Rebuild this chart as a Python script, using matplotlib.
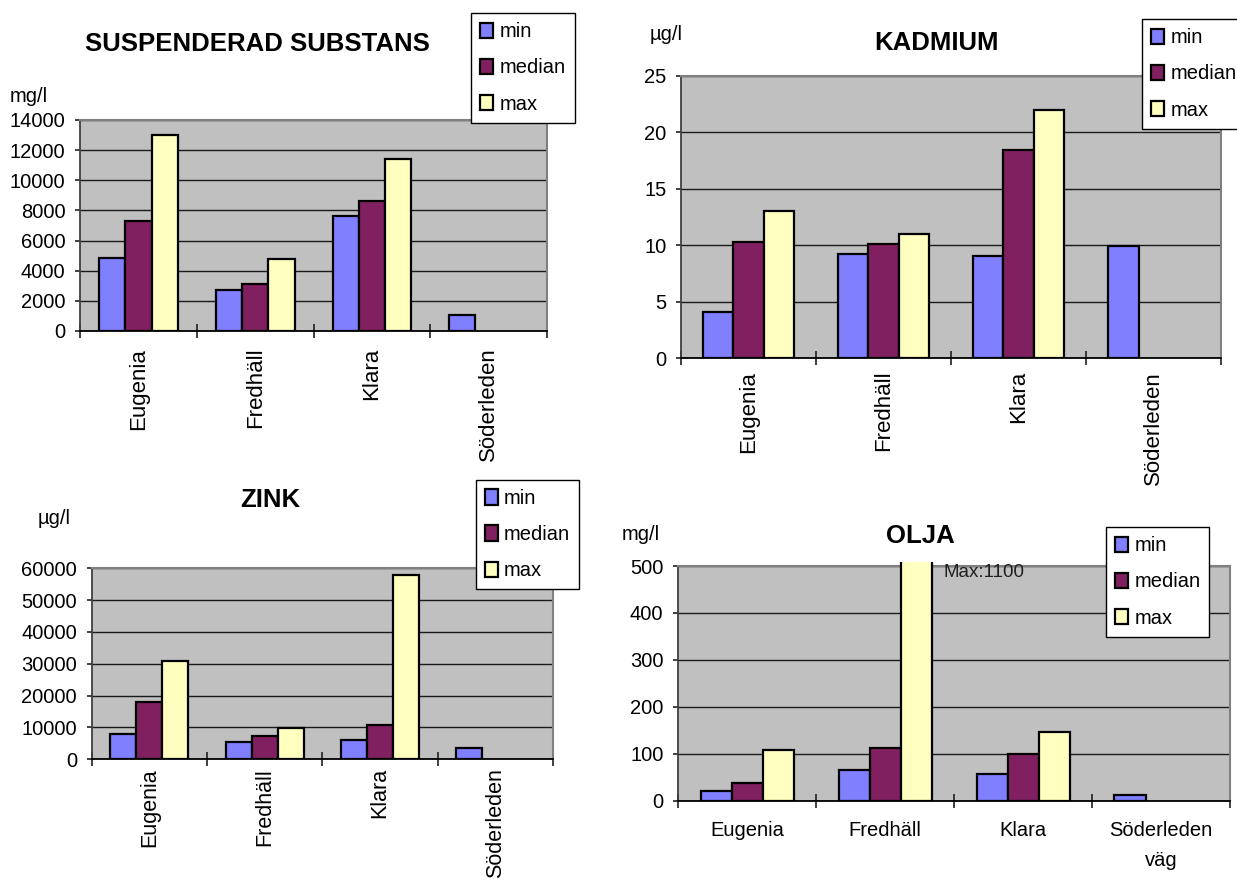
import numpy as np
import matplotlib
matplotlib.use("Agg")
import matplotlib.pyplot as plt
from matplotlib.patches import Patch, Rectangle
from matplotlib.ticker import NullFormatter

plt.rcParams['font.family'] = ['Liberation Sans', 'DejaVu Sans']

W, H = 1237, 882

sites = ["Eugenia", "Fredhäll", "Klara", "Söderleden"]
sites_olja = ["Eugenia", "Fredhäll", "Klara", "Söderleden\nväg"]
series = ["min", "median", "max"]
colors = ["#8080FF", "#802060", "#FFFFC0"]

# suspenderad substans, mg/l
susp_min = [4850, 2750, 7650, 1050]
susp_median = [7300, 3100, 8650, None]
susp_max = [13000, 4800, 11400, None]

# kadmium, µg/l
kadm_min = [4.1, 9.2, 9.05, 9.9]
kadm_median = [10.3, 10.1, 18.4, None]
kadm_max = [13.0, 11.0, 22.0, None]

# zink, µg/l
zink_min = [7850, 5450, 6100, 3550]
zink_median = [17900, 7300, 10900, None]
zink_max = [31000, 9700, 57900, None]

# olja, mg/l
olja_min = [21, 65, 57, 12]
olja_median = [38, 113, 100, None]
olja_max = [108, 1100, 147, None]

bar_w = 0.225
offsets = [-bar_w, 0.0, bar_w]


def px_axes(fig, x0, y0, x1, y1):
    """Axes from pixel corners (top-left origin)."""
    return fig.add_axes([x0 / W, 1 - y1 / H, (x1 - x0) / W, (y1 - y0) / H])


def bar_panel(fig, box, values, ymax, ystep, labels, rotate=True, label_pad=10,
              label_size=16, clip_top=1.0):
    ax = px_axes(fig, *box)
    ax.set_facecolor("#C0C0C0")
    centers = np.arange(len(labels))

    for vals, off, col in zip(values, offsets, colors):
        xs = [c + off for c, v in zip(centers, vals) if v is not None]
        hs = [v for v in vals if v is not None]
        bars = ax.bar(xs, hs, bar_w, color=col, edgecolor="black", linewidth=1.6,
                      zorder=3)
        # let tall bars poke just past the plot area
        clip = Rectangle((0, 0), 1, clip_top, transform=ax.transAxes)
        for b in bars:
            b.set_clip_path(clip)

    ax.set_xlim(-0.5, len(labels) - 0.5)
    ax.set_ylim(0, ymax)
    ax.set_yticks(np.arange(0, ymax + ystep / 2, ystep))
    ax.yaxis.grid(True, color="#1a1a1a", linewidth=1.0)
    ax.set_axisbelow(True)

    # category boundaries get the tick marks, centers get the names
    ax.set_xticks(np.arange(-0.5, len(labels), 1.0))
    ax.xaxis.set_major_formatter(NullFormatter())
    ax.set_xticks(centers, minor=True)
    if rotate:
        ax.set_xticklabels(labels, minor=True, rotation=90, fontsize=label_size)
    else:
        ax.set_xticklabels(labels, minor=True, fontsize=14.5, linespacing=1.75)
    ax.tick_params(axis="x", which="major", direction="inout", length=9.4,
                   width=1.2, color="#202020")
    ax.tick_params(axis="x", which="minor", length=0, pad=label_pad)
    ax.tick_params(axis="y", direction="out", length=3.6, width=1.2, pad=7,
                   labelsize=14.5, color="#202020")

    for side in ("top", "right"):
        ax.spines[side].set_color("#808080")
        ax.spines[side].set_linewidth(1.5)
    ax.spines["left"].set_color("#404040")
    ax.spines["left"].set_linewidth(1.3)
    ax.spines["bottom"].set_color("black")
    ax.spines["bottom"].set_linewidth(1.3)
    return ax


def panel_text(fig, title, title_xy, unit, unit_xy, legend_xy):
    fig.text(title_xy[0] / W, 1 - title_xy[1] / H, title, ha="center", va="center",
             fontsize=18.5, fontweight="bold")
    fig.text(unit_xy[0] / W, 1 - unit_xy[1] / H, unit, ha="left", va="center",
             fontsize=14.5)
    handles = [Patch(facecolor=c, edgecolor="black", linewidth=1.6) for c in colors]
    leg = fig.legend(handles, series, loc="upper left",
                     bbox_to_anchor=(legend_xy[0] / W, 1 - legend_xy[1] / H),
                     borderaxespad=0, frameon=True, fancybox=False,
                     edgecolor="black", framealpha=1, fontsize=14.5,
                     handlelength=0.65, handleheight=0.8, handletextpad=0.3,
                     labelspacing=0.85, borderpad=0.45)
    leg.get_frame().set_linewidth(1.0)
    return leg


fig = plt.figure(figsize=(W / 100, H / 100), dpi=100)

bar_panel(fig, (80.3, 120, 546.8, 331), [susp_min, susp_median, susp_max],
          14000, 2000, sites, label_pad=12)
panel_text(fig, "SUSPENDERAD SUBSTANS", (257, 44), "mg/l", (10, 96), (471.3, 13.3))

bar_panel(fig, (681, 75.7, 1221.3, 358.3), [kadm_min, kadm_median, kadm_max],
          25, 5, sites, label_pad=9)
panel_text(fig, "KADMIUM", (937, 43), "µg/l", (649.5, 34.5), (1142, 19.3))

bar_panel(fig, (91.7, 568.3, 552.8, 759.3), [zink_min, zink_median, zink_max],
          60000, 10000, sites, label_pad=6.5, label_size=15.5)
panel_text(fig, "ZINK", (270, 500), "µg/l", (37.6, 519), (475.7, 480))

ax4 = bar_panel(fig, (678.2, 566, 1230, 800.7), [olja_min, olja_median, olja_max],
                500, 100, sites_olja, rotate=False, label_pad=14.6, clip_top=1.017)
panel_text(fig, "OLJA", (920.3, 536), "mg/l", (622, 534), (1106, 527.3))

# the Fredhäll max runs off the scale, so note its real value
peak = olja_max[1]
ax4.annotate(f"Max:{peak}", xy=(1 + offsets[2] + bar_w / 2, 500),
             xytext=(8.5, -5), textcoords="offset points", ha="left", va="center",
             fontsize=13.5, color="#202020")

fig.savefig("out.png", dpi=100, facecolor="white")
